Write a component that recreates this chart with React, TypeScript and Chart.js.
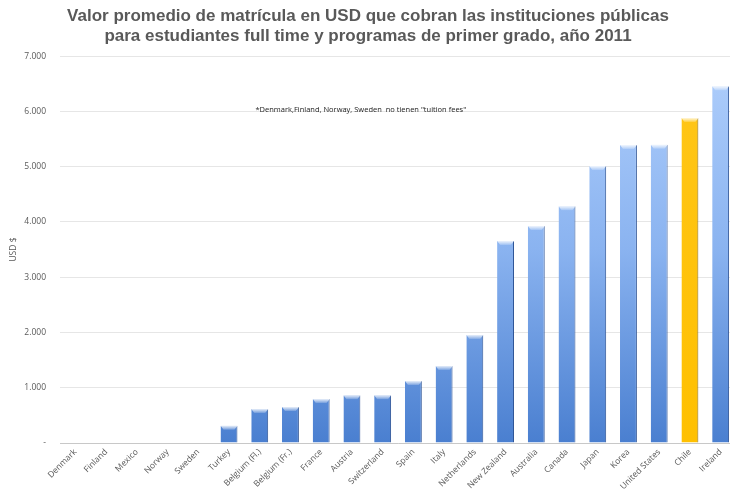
import React, { useEffect, useRef } from "react";
import { Chart, registerables } from "chart.js";

Chart.register(...registerables);

const categories = [
  "Denmark", "Finland", "Mexico", "Norway", "Sweden", "Turkey", "Belgium (Fl.)", "Belgium (Fr.)",
  "France", "Austria", "Switzerland", "Spain", "Italy", "Netherlands", "New Zealand", "Australia",
  "Canada", "Japan", "Korea", "United States", "Chile", "Ireland",
];
const tuitionUSD = [
  0, 0, 0, 0, 0, 310, 615, 650, 795, 865, 865, 1120, 1395, 1955, 3655, 3925, 4285, 5010, 5390, 5395,
  5880, 6455,
];
const highlightCategory = "Chile";
const yTicks = [0, 1000, 2000, 3000, 4000, 5000, 6000, 7000];
const titleLines = [
  "Valor promedio de matrícula en USD que cobran las instituciones públicas",
  "para estudiantes full time y programas de primer grado, año 2011",
];
const noteText = '*Denmark,Finland, Norway, Sweden  no tienen "tuition fees"';

function fmt(v: number): string {
  if (v === 0) return "-";
  return v.toLocaleString("de-DE");
}

export default function App() {
  const ref = useRef<HTMLCanvasElement | null>(null);
  useEffect(() => {
    document.body.style.margin = "0";
    document.body.style.overflow = "hidden";
    const canvas = ref.current!;
    const notePlugin = {
      id: "note",
      afterDraw(chart: any) {
        const { ctx, chartArea } = chart;
        ctx.save();
        ctx.font = "7.5px 'Open Sans', sans-serif";
        ctx.fillStyle = "#222";
        ctx.textAlign = "center";
        ctx.textBaseline = "middle";
        const x = chartArea.left + (chartArea.right - chartArea.left) * 0.445;
        const y = chartArea.top + (chartArea.bottom - chartArea.top) * 0.14;
        ctx.fillText(noteText, x, y);
        ctx.restore();
      },
      afterDatasetsDraw(chart: any) {
        const { ctx } = chart;
        const meta = chart.getDatasetMeta(0);
        ctx.save();
        meta.data.forEach((bar: any, i: number) => {
          const v = tuitionUSD[i];
          if (!v) return;
          const w = bar.width;
          const left = bar.x - w / 2;
          const top = bar.y;
          const g = ctx.createLinearGradient(0, top, 0, top + 5);
          g.addColorStop(0, "rgba(255,255,255,0.85)");
          g.addColorStop(1, "rgba(255,255,255,0)");
          ctx.fillStyle = g;
          ctx.beginPath();
          ctx.moveTo(left, top);
          ctx.lineTo(left + w, top);
          ctx.lineTo(left + w - 3, top + 4);
          ctx.lineTo(left + 3, top + 4);
          ctx.closePath();
          ctx.fill();
        });
        ctx.restore();
      },
    };
    const chart = new Chart(canvas, {
      type: "bar",
      data: {
        labels: categories,
        datasets: [
          {
            data: tuitionUSD,
            backgroundColor: (c: any) => {
              const area = c.chart.chartArea;
              const isHi = categories[c.dataIndex] === highlightCategory;
              if (!area) return isHi ? "#ffc000" : "#6d9eeb";
              const g = c.chart.ctx.createLinearGradient(0, area.top, 0, area.bottom);
              if (isHi) {
                g.addColorStop(0, "#ffc61a");
                g.addColorStop(1, "#ffc000");
              } else {
                g.addColorStop(0, "#b0cffc");
                g.addColorStop(0.5, "#8ab3f0");
                g.addColorStop(1, "#4a7fd0");
              }
              return g;
            },
            borderColor: (c: any) =>
              categories[c.dataIndex] === highlightCategory ? "#8a6a10" : "#2f5597",
            borderWidth: { left: 0, right: 1, top: 0, bottom: 0 },
            borderSkipped: false,
            barPercentage: 0.55,
            categoryPercentage: 1,
          },
        ],
      },
      options: {
        animation: false,
        responsive: false,
        devicePixelRatio: 1,
        layout: { padding: { left: 0, right: 4, top: 0, bottom: 0 } },
        plugins: {
          legend: { display: false },
          tooltip: { enabled: false },
          title: {
            display: true,
            text: titleLines,
            color: "#595959",
            font: { family: "'Liberation Sans', Arial, sans-serif", size: 17, weight: "bold", lineHeight: 1.18 },
            padding: { top: 6, bottom: 10 },
          },
        },
        scales: {
          x: {
            grid: { display: false, drawTicks: false },
            border: { display: true, color: "#c8c8c8", width: 1 },
            ticks: {
              autoSkip: false,
              maxRotation: 45,
              minRotation: 45,
              padding: 4,
              color: "#595959",
              font: { family: "'Open Sans', sans-serif", size: 8.5 },
            },
            afterFit: (s: any) => {
              s.height = 48;
            },
          },
          y: {
            min: 0,
            max: 7000,
            afterBuildTicks: (s: any) => {
              s.ticks = yTicks.map((v) => ({ value: v }));
            },
            grid: { color: "#e6e6e6", drawTicks: false },
            border: { display: false },
            ticks: {
              padding: 14,
              color: "#595959",
              font: { family: "'Open Sans', sans-serif", size: 8.5 },
              callback: (v: any) => fmt(Number(v)),
            },
            title: {
              display: true,
              text: "USD $",
              color: "#595959",
              font: { family: "'Open Sans', sans-serif", size: 8.5 },
              padding: { top: 8, bottom: 0 },
            },
            afterFit: (s: any) => {
              s.width = 60;
            },
          },
        },
      },
      plugins: [notePlugin],
    } as any);
    return () => chart.destroy();
  }, []);
  return (
    <div style={{ position: "fixed", left: 0, top: 0, width: 730, height: 491, overflow: "hidden", background: "#fff" }}>
      <canvas ref={ref} width={740} height={491} style={{ display: "block" }} />
    </div>
  );
}
